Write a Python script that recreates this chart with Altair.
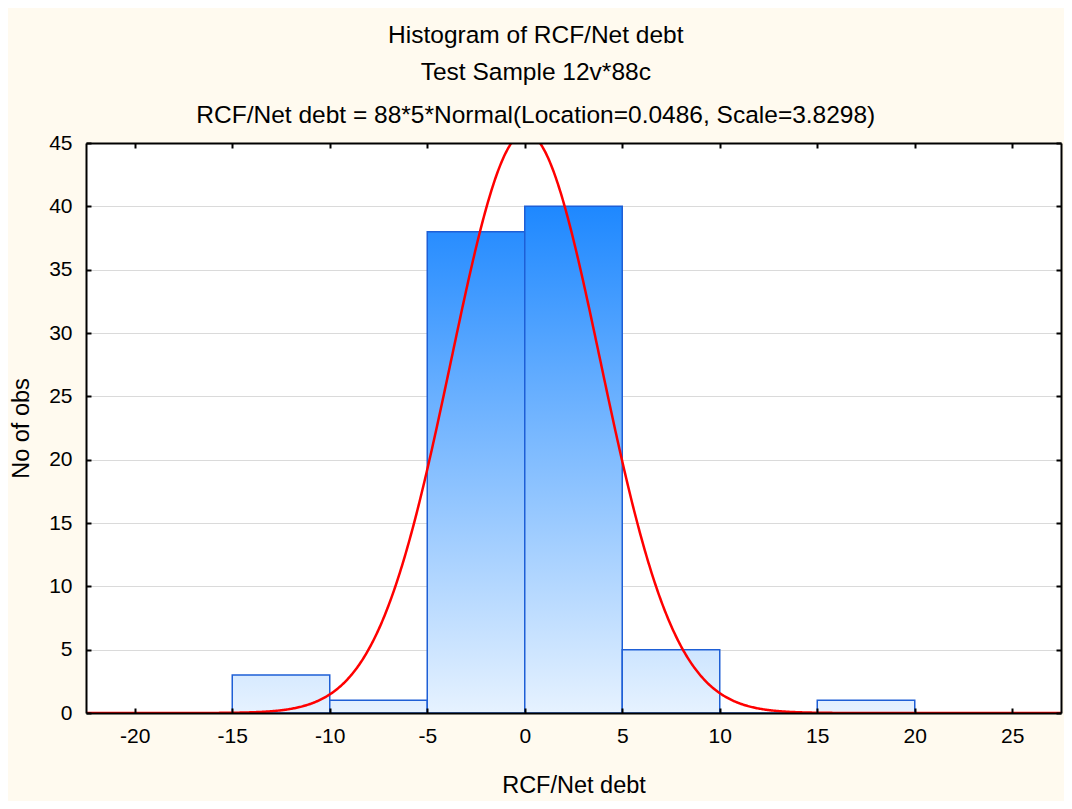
import altair as alt
import pandas as pd

# ---- data ----
bin_lo = [-20, -15, -10, -5, 0, 5, 10, 15]
counts = [0, 3, 1, 38, 40, 5, 0, 1]
bin_width = 5
n_obs = 88
location = 0.0486
scale_sd = 3.8298
x_ticks = [-20, -15, -10, -5, 0, 5, 10, 15, 20, 25]
y_ticks = [0, 5, 10, 15, 20, 25, 30, 35, 40, 45]

FONT = "Liberation Sans"
TICK_FS = 21
AXT_FS = 23.5
TITLE_FS = 24.5
BG = "#FFFAEF"
BAR_STROKE = "#1E5FD6"
TOP_C = (30, 136, 255)
BOT_C = (230, 242, 255)

df = pd.DataFrame({"lo": bin_lo, "count": counts})

xs = alt.Scale(domain=[-22.5, 27.5], nice=False, zero=False)
ys = alt.Scale(domain=[0, 45], nice=False, zero=True)


def shade(v):
    t = max(0.0, min(1.0, v / 40.0))
    r, g, b = (round(BOT_C[k] + (TOP_C[k] - BOT_C[k]) * t) for k in range(3))
    return f"#{r:02X}{g:02X}{b:02X}"


lbl = "'' + datum.value"

ax_bottom = alt.Axis(orient="bottom", values=x_ticks, domain=True, domainColor="black",
                     domainWidth=2, ticks=False, tickSize=0, labels=True, labelFont=FONT,
                     labelFontSize=TICK_FS, labelColor="black", labelPadding=12, labelExpr=lbl,
                     grid=False, title="RCF/Net debt", titleFont=FONT, titleFontSize=AXT_FS,
                     titleFontWeight="normal", titleColor="black", titlePadding=27, zindex=1)
ax_bottom_ticks = alt.Axis(orient="bottom", values=x_ticks, offset=-5, domain=False, ticks=True,
                           tickSize=5, tickWidth=2, tickColor="black", labels=False, grid=False,
                           title=None, zindex=1)
ax_top = alt.Axis(orient="top", values=x_ticks, domain=True, domainColor="black", domainWidth=2,
                  ticks=False, tickSize=0, labels=False, grid=False, title=None, zindex=1)
ax_top_ticks = alt.Axis(orient="top", values=x_ticks, offset=-5, domain=False, ticks=True,
                        tickSize=5, tickWidth=2, tickColor="black", labels=False, grid=False,
                        title=None, zindex=1)

ax_grid = alt.Axis(orient="left", values=y_ticks, domain=False, ticks=False, tickSize=0,
                   labels=False, grid=True, gridColor="#DADADA", gridWidth=1, title=None, zindex=0)
ax_left = alt.Axis(orient="left", values=y_ticks, domain=True, domainColor="black", domainWidth=2,
                   ticks=False, tickSize=0, labels=True, labelFont=FONT, labelFontSize=TICK_FS,
                   labelColor="black", labelPadding=14, labelExpr=lbl, grid=False,
                   title="No of obs", titleFont=FONT, titleFontSize=AXT_FS,
                   titleFontWeight="normal", titleColor="black", titlePadding=15, zindex=1)
ax_left_ticks = alt.Axis(orient="left", values=y_ticks, offset=-5, domain=False, ticks=True,
                         tickSize=5, tickWidth=2, tickColor="black", labels=False, grid=False,
                         title=None, zindex=1)
ax_right = alt.Axis(orient="right", values=y_ticks, domain=True, domainColor="black",
                    domainWidth=2, ticks=False, tickSize=0, labels=False, grid=False, title=None,
                    zindex=1)
ax_right_ticks = alt.Axis(orient="right", values=y_ticks, offset=-5, domain=False, ticks=True,
                          tickSize=5, tickWidth=2, tickColor="black", labels=False, grid=False,
                          title=None, zindex=1)

x_axes = [ax_bottom, ax_bottom_ticks, ax_top, ax_top_ticks]
y_axes = [ax_grid, ax_left, ax_left_ticks, ax_right, ax_right_ticks]

layers = []
for i, (lo, h) in enumerate(zip(bin_lo, counts)):
    grad = alt.LinearGradient(
        gradient="linear",
        stops=[alt.GradientStop(color=shade(h), offset=0),
               alt.GradientStop(color=shade(0), offset=1)],
        x1=0, x2=0, y1=0, y2=1,
    )
    xa = x_axes[i] if i < len(x_axes) else None
    ya = y_axes[i] if i < len(y_axes) else None
    layer = (
        alt.Chart(df)
        .transform_filter(alt.datum.lo == lo)
        .transform_calculate(hi=f"datum.lo + {bin_width}")
        .mark_bar(fill=grad, stroke=BAR_STROKE, strokeWidth=1.5)
        .encode(
            x=alt.X("lo:Q", scale=xs, axis=xa, title="RCF/Net debt" if i == 0 else None),
            x2="hi:Q",
            y=alt.Y("count:Q", scale=ys, axis=ya, title="No of obs" if i == 1 else None),
            y2=alt.datum(0),
        )
    )
    layers.append(layer)

curve = (
    alt.Chart(alt.sequence(-22.5, 27.55, 0.05, as_="x"))
    .transform_calculate(y=f"{n_obs} * {bin_width} * densityNormal(datum.x, {location}, {scale_sd})")
    .mark_line(color="#FF0000", strokeWidth=2.5, clip=True)
    .encode(x=alt.X("x:Q", scale=xs, axis=None), y=alt.Y("y:Q", scale=ys, axis=None))
)
layers.append(curve)

chart = (
    alt.layer(*layers)
    .resolve_scale(x="shared", y="shared")
    .resolve_axis(x="independent", y="independent")
    .properties(
        width=975,
        height=570,
        autosize=alt.AutoSizeParams(type="none"),
        padding={"left": 78, "top": 135, "right": 3, "bottom": 88},
        background=BG,
        title=alt.TitleParams(
            text=["Histogram of RCF/Net debt", "Test Sample 12v*88c"],
            subtitle="RCF/Net debt = 88*5*Normal(Location=0.0486, Scale=3.8298)",
            font=FONT, fontSize=TITLE_FS, fontWeight="normal", color="black",
            subtitleFont=FONT, subtitleFontSize=TITLE_FS, subtitleColor="black",
            lineHeight=37, subtitlePadding=18, anchor="middle", frame="bounds", offset=4,
        ),
    )
    .configure_view(fill="white", stroke=None)
)

chart.save("out.html", embed_options={"renderer": "svg", "actions": False})
